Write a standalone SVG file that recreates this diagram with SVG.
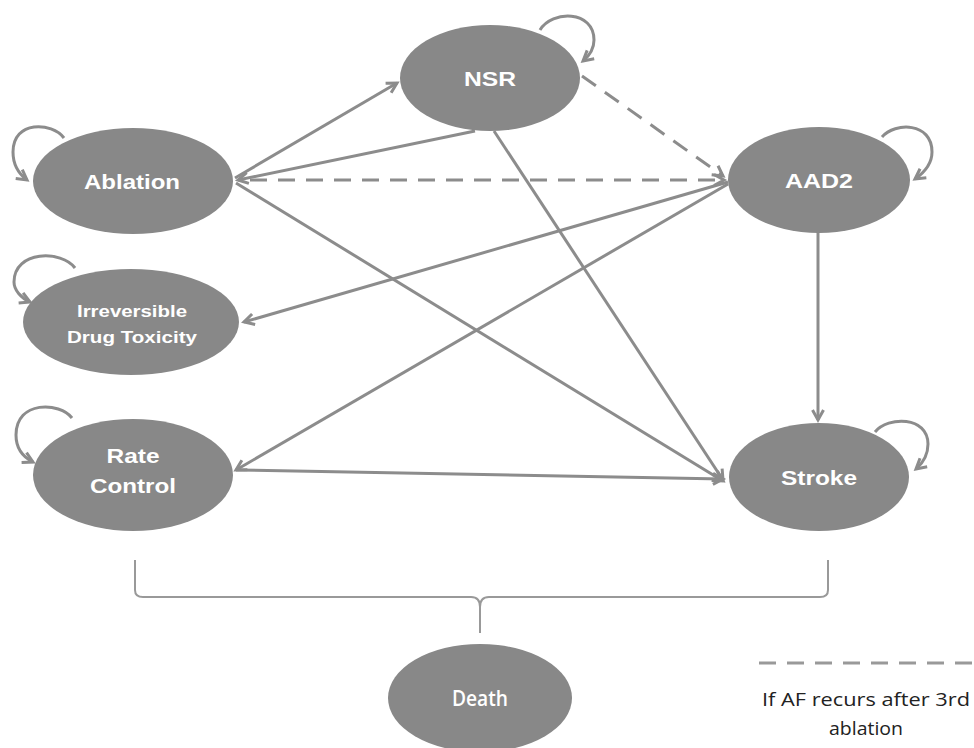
<svg xmlns="http://www.w3.org/2000/svg" width="974" height="748" viewBox="0 0 974 748">
<style>
.node{fill:#888888}
.lbl{fill:#ffffff;font-family:"Liberation Sans",Arial,sans-serif;font-weight:bold;text-anchor:middle}
.e{fill:none;stroke:#8c8c8c;stroke-width:3;marker-end:url(#arr)}
.d{stroke-dasharray:17 11}
.loop{fill:none;stroke:#8c8c8c;stroke-width:3;marker-end:url(#arr)}
.leg{fill:#222222;font-family:"Open Sans","Liberation Sans",sans-serif;font-size:18px;text-anchor:middle}
</style>
<defs>
<marker id="arr" viewBox="0 0 12 12" refX="11" refY="6" markerWidth="12" markerHeight="12" orient="auto" markerUnits="userSpaceOnUse" overflow="visible">
<path d="M1,0.5 L11,6 L1,11.5" fill="none" stroke="#8c8c8c" stroke-width="3"/>
</marker>
</defs>
<rect width="974" height="748" fill="#ffffff"/>
<g id="connectors">
<path class="e" d="M235,178 L397,83"/>
<path class="e" d="M475,131 L238,180"/>
<path class="e d" d="M250,180 L724,180"/>
<path class="e d" d="M582,76 L723,176"/>
<path class="e" d="M236,183 L723,481"/>
<path class="e" d="M494,131 L723,480"/>
<path class="e" d="M728,182 L244,322"/>
<path class="e" d="M728,184 L236,470"/>
<path class="e" d="M236,470 L723,479"/>
<path class="e" d="M818,232 L818,420"/>
<path class="loop" d="M64,138 C52,122 13,120 13,152 C13,166 19,174 27,180"/>
<path class="loop" d="M540,30 C552,10 594,10 594,40 C594,50 589,56 583,61"/>
<path class="loop" d="M882,137 C895,122 932,122 932,152 C932,164 925,172 915,179"/>
<path class="loop" d="M75,268 C62,250 14,250 14,282 C14,290 21,298 30,302"/>
<path class="loop" d="M72,418 C60,402 16,400 16,435 C16,448 23,457 33,462"/>
<path class="loop" d="M875,432 C888,416 928,416 928,444 C928,456 923,463 916,469"/>
<path d="M135,560 L135,590 Q135,597 143,597 L471,597 Q480,597 480,607 L480,633 M480,607 Q480,597 489,597 L820,597 Q828,597 828,590 L828,560" fill="none" stroke="#999999" stroke-width="2"/>
</g>
<g id="ablation"><ellipse class="node" cx="133" cy="181" rx="100" ry="53"/><text class="lbl" x="132" y="189" font-size="20" textLength="96" lengthAdjust="spacingAndGlyphs">Ablation</text></g>
<g id="nsr"><ellipse class="node" cx="490" cy="78" rx="90" ry="53"/><text class="lbl" x="490" y="86" font-size="20" textLength="52" lengthAdjust="spacingAndGlyphs">NSR</text></g>
<g id="aad2"><ellipse class="node" cx="819" cy="180" rx="91" ry="53"/><text class="lbl" x="819" y="188" font-size="20" textLength="68" lengthAdjust="spacingAndGlyphs">AAD2</text></g>
<g id="toxicity"><ellipse class="node" cx="131" cy="322" rx="108" ry="53"/><text class="lbl" x="132" y="317" font-size="17" textLength="110" lengthAdjust="spacingAndGlyphs">Irreversible</text><text class="lbl" x="132" y="343" font-size="17" textLength="130" lengthAdjust="spacingAndGlyphs">Drug Toxicity</text></g>
<g id="ratecontrol"><ellipse class="node" cx="133" cy="475" rx="100" ry="56"/><text class="lbl" x="133" y="463" font-size="20" textLength="53" lengthAdjust="spacingAndGlyphs">Rate</text><text class="lbl" x="133" y="493" font-size="20" textLength="86" lengthAdjust="spacingAndGlyphs">Control</text></g>
<g id="stroke"><ellipse class="node" cx="819" cy="477" rx="90" ry="54"/><text class="lbl" x="819" y="485" font-size="20" textLength="76" lengthAdjust="spacingAndGlyphs">Stroke</text></g>
<g id="death"><ellipse class="node" cx="480" cy="698" rx="92" ry="54"/><text x="480" y="706" fill="#ffffff" font-family="'Open Sans','Liberation Sans',sans-serif" font-size="21" font-weight="600" text-anchor="middle" textLength="56" lengthAdjust="spacingAndGlyphs">Death</text></g>
<g id="legend">
<path d="M759,663 L972,663" fill="none" stroke="#999999" stroke-width="3" stroke-dasharray="17 11"/>
<text class="leg" x="866" y="706" textLength="208" lengthAdjust="spacingAndGlyphs">If AF recurs after 3rd</text>
<text class="leg" x="866" y="735" textLength="74" lengthAdjust="spacingAndGlyphs">ablation</text>
</g>
</svg>
